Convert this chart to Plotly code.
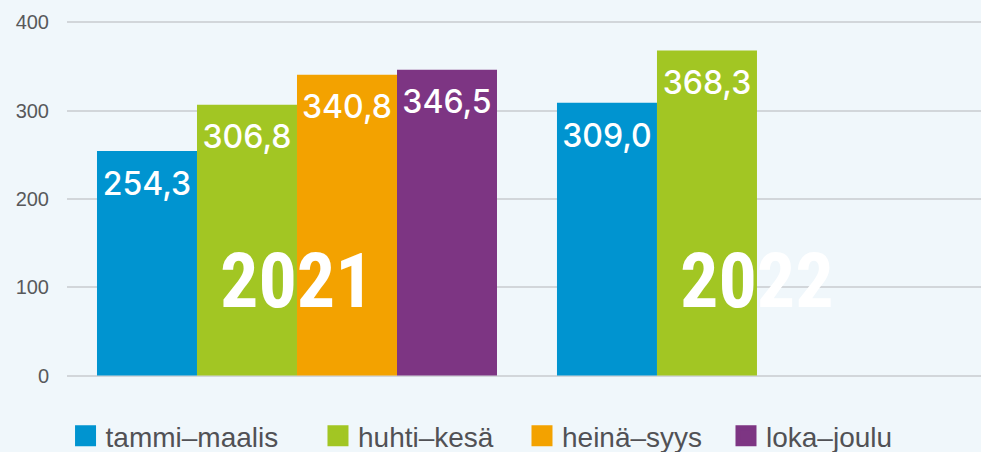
import plotly.graph_objects as go

# ---- data ----
years = ["2021", "2022"]
series_names = ["tammi–maalis", "huhti–kesä", "heinä–syys", "loka–joulu"]
tammi_maalis = [254.3, 309.0]
huhti_kesa = [306.8, 368.3]
heina_syys = [340.8, None]
loka_joulu = [346.5, None]
y_ticks = [0, 100, 200, 300, 400]

series_values = [tammi_maalis, huhti_kesa, heina_syys, loka_joulu]
colors = ["#0094d0", "#a2c623", "#f3a200", "#7d3583"]


def fmt(v):
    return "" if v is None else f"{v:.1f}".replace(".", ",")


fig = go.Figure()

legend_ids = ["legend", "legend2", "legend3", "legend4"]

for i, (name, vals, col) in enumerate(zip(series_names, series_values, colors)):
    grp = f"g{i}"
    fig.add_trace(go.Bar(
        x=years, y=vals, name=name, marker=dict(color=col, line=dict(width=0)),
        offsetgroup=grp, showlegend=False, hoverinfo="skip",
    ))

for i, (name, vals, col) in enumerate(zip(series_names, series_values, colors)):
    grp = f"g{i}"
    fig.add_trace(go.Scatter(
        x=years, y=vals, mode="markers+text", text=[fmt(v) for v in vals],
        textposition="bottom center",
        textfont=dict(family="Inter, Liberation Sans, Arial, sans-serif", size=32,
                      color="#ffffff", weight=500),
        marker=dict(size=30, color="rgba(0,0,0,0)"),
        offsetgroup=grp, showlegend=False, hoverinfo="skip", cliponaxis=False,
    ))

for i, (name, col) in enumerate(zip(series_names, colors)):
    fig.add_trace(go.Scatter(
        x=[None], y=[None], mode="markers", name=name,
        marker=dict(symbol="square", size=16, color=col, line=dict(width=5, color=col)),
        offsetgroup=f"g{i}", legend=legend_ids[i], showlegend=True,
    ))

# big year labels (category index positions)
for idx, yr in enumerate(years):
    fig.add_annotation(
        x=idx, y=107, xref="x", yref="y", text=yr, showarrow=False,
        xanchor="center", yanchor="middle",
        font=dict(family="Roboto Condensed, Liberation Sans Narrow, DejaVu Sans Condensed, sans-serif",
                  size=76, color="#ffffff", weight="bold"),
    )

legend_font = dict(family="Liberation Sans, Arial, sans-serif", size=28, color="#515155")
legend_x = [-0.0016, 0.2746, 0.4978, 0.7210]
leg_common = dict(orientation="h", yanchor="middle", y=-0.155, xanchor="left",
                  bgcolor="rgba(0,0,0,0)", font=legend_font, borderwidth=0)

fig.update_layout(
    width=981, height=452,
    margin=dict(l=67, r=0, t=18, b=72, autoexpand=False),
    paper_bgcolor="#f0f7fb", plot_bgcolor="#f0f7fb",
    barmode="group", bargap=0.1304, bargroupgap=0,
    scattermode="group", scattergap=0.1304,
    showlegend=True,
    legend=dict(x=legend_x[0], **leg_common),
    legend2=dict(x=legend_x[1], **leg_common),
    legend3=dict(x=legend_x[2], **leg_common),
    legend4=dict(x=legend_x[3], **leg_common),
    xaxis=dict(type="category", range=[-0.5, 1.487], showticklabels=False,
               showgrid=False, zeroline=False, showline=False, fixedrange=True),
    yaxis=dict(range=[-5, 405], tickvals=y_ticks, ticktext=[str(t) for t in y_ticks],
               showgrid=True, gridcolor="#d2d6da", gridwidth=2, zeroline=False,
               showline=False, ticks="", ticklabelstandoff=17,
               tickfont=dict(family="Liberation Sans, Arial, sans-serif", size=20, color="#58595b"),
               fixedrange=True),
)

fig.write_html(
    "out.html",
    config={"displayModeBar": False},
    post_script="document.body.style.margin='0';document.body.style.background='#f0f7fb';",
)
